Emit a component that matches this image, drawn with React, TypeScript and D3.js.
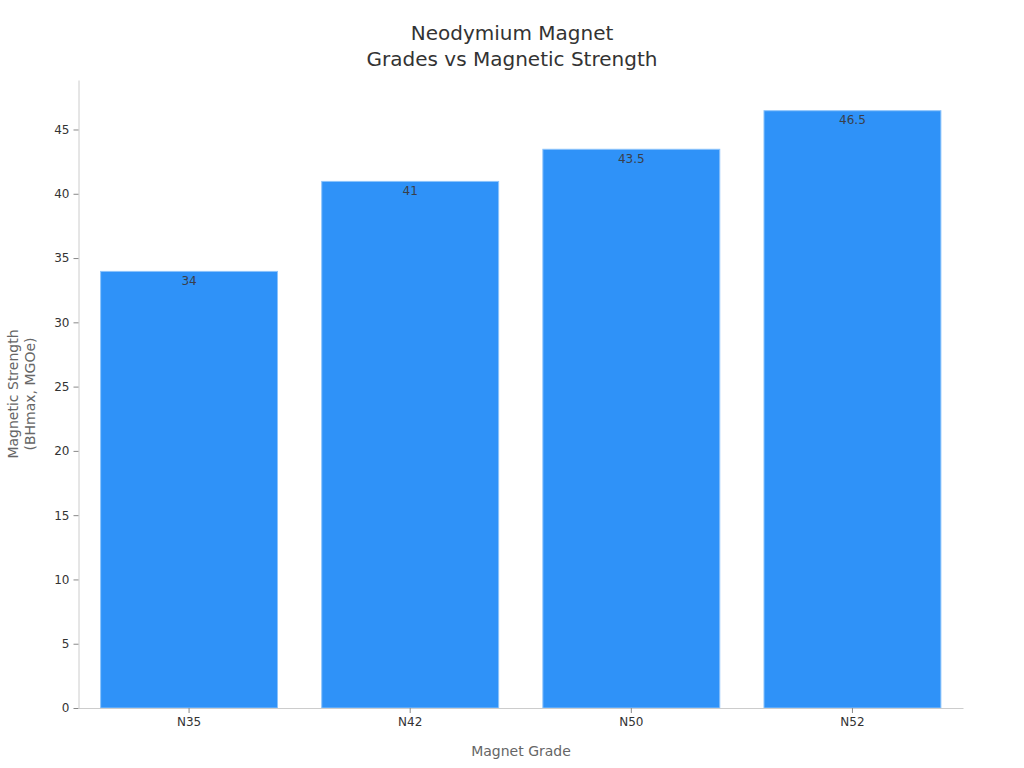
import React, { useEffect, useRef } from 'react'
import * as d3 from 'd3'

const grades = ['N35', 'N42', 'N50', 'N52']
const strength = [34, 41, 43.5, 46.5]
const yTicks = [0, 5, 10, 15, 20, 25, 30, 35, 40, 45]

export default function App() {
    const ref = useRef<SVGSVGElement>(null)

    useEffect(() => {
        const svg = d3.select(ref.current)
        svg.selectAll('*').remove()
        const font = 'DejaVu Sans, sans-serif'

        const x = d3.scaleBand<string>()
            .domain(grades)
            .range([78.5, 963])
            .paddingInner(0.2)
            .paddingOuter(0.1)
        const y = d3.scaleLinear().domain([0, 48.85]).range([708, 80])

        // bars
        svg.append('g').selectAll('rect')
            .data(grades)
            .join('rect')
            .attr('x', d => x(d)!)
            .attr('y', (d, i) => y(strength[i]) + 0.5)
            .attr('width', x.bandwidth())
            .attr('height', (d, i) => y(0) - y(strength[i]) - 0.5)
            .attr('fill', '#2f92f8')
            .attr('stroke', '#8cc3fb')
            .attr('stroke-width', 1)

        svg.append('g').selectAll('text')
            .data(grades)
            .join('text')
            .attr('x', d => x(d)! + x.bandwidth() / 2)
            .attr('y', (d, i) => y(strength[i]) + 14)
            .attr('text-anchor', 'middle')
            .style('font', `12px ${font}`)
            .attr('fill', '#3a3f4a')
            .text((d, i) => String(strength[i]))

        // y axis
        const yAxis = svg.append('g')
            .attr('transform', 'translate(78.5,0)')
            .call(d3.axisLeft(y).tickValues(yTicks).tickSize(5).tickPadding(4).tickSizeOuter(0))
        yAxis.select('.domain').attr('stroke', '#ccc')
        yAxis.selectAll('.tick line').attr('stroke', '#888')
        yAxis.selectAll('.tick text').style('font', `12px ${font}`).attr('fill', '#333')

        // x axis
        const xAxis = svg.append('g')
            .attr('transform', 'translate(0,708)')
            .call(d3.axisBottom(x).tickSize(5).tickPadding(4).tickSizeOuter(0))
        xAxis.select('.domain').attr('stroke', '#ccc')
        xAxis.selectAll('.tick line').attr('stroke', '#888')
        xAxis.selectAll('.tick text').style('font', `12px ${font}`).attr('fill', '#333')

        // title
        const title = svg.append('text')
            .attr('text-anchor', 'middle')
            .style('font', `20px ${font}`)
            .attr('fill', '#333')
        title.append('tspan').attr('x', 512).attr('y', 40).text('Neodymium Magnet')
        title.append('tspan').attr('x', 512).attr('y', 66).text('Grades vs Magnetic Strength')

        svg.append('text')
            .attr('x', 521).attr('y', 756)
            .attr('text-anchor', 'middle')
            .style('font', `14px ${font}`)
            .attr('fill', '#666')
            .text('Magnet Grade')

        const yl = svg.append('text')
            .attr('transform', 'translate(18,394) rotate(-90)')
            .attr('text-anchor', 'middle')
            .style('font', `14px ${font}`)
            .attr('fill', '#666')
        yl.append('tspan').attr('x', 0).attr('y', 0).text('Magnetic Strength')
        yl.append('tspan').attr('x', 0).attr('y', 17).text('(BHmax, MGOe)')
    }, [])

    return (
        <svg ref={ref} width={1024} height={768}
            style={{ position: 'absolute', left: 0, top: 0, background: '#fff' }} />
    )
}
